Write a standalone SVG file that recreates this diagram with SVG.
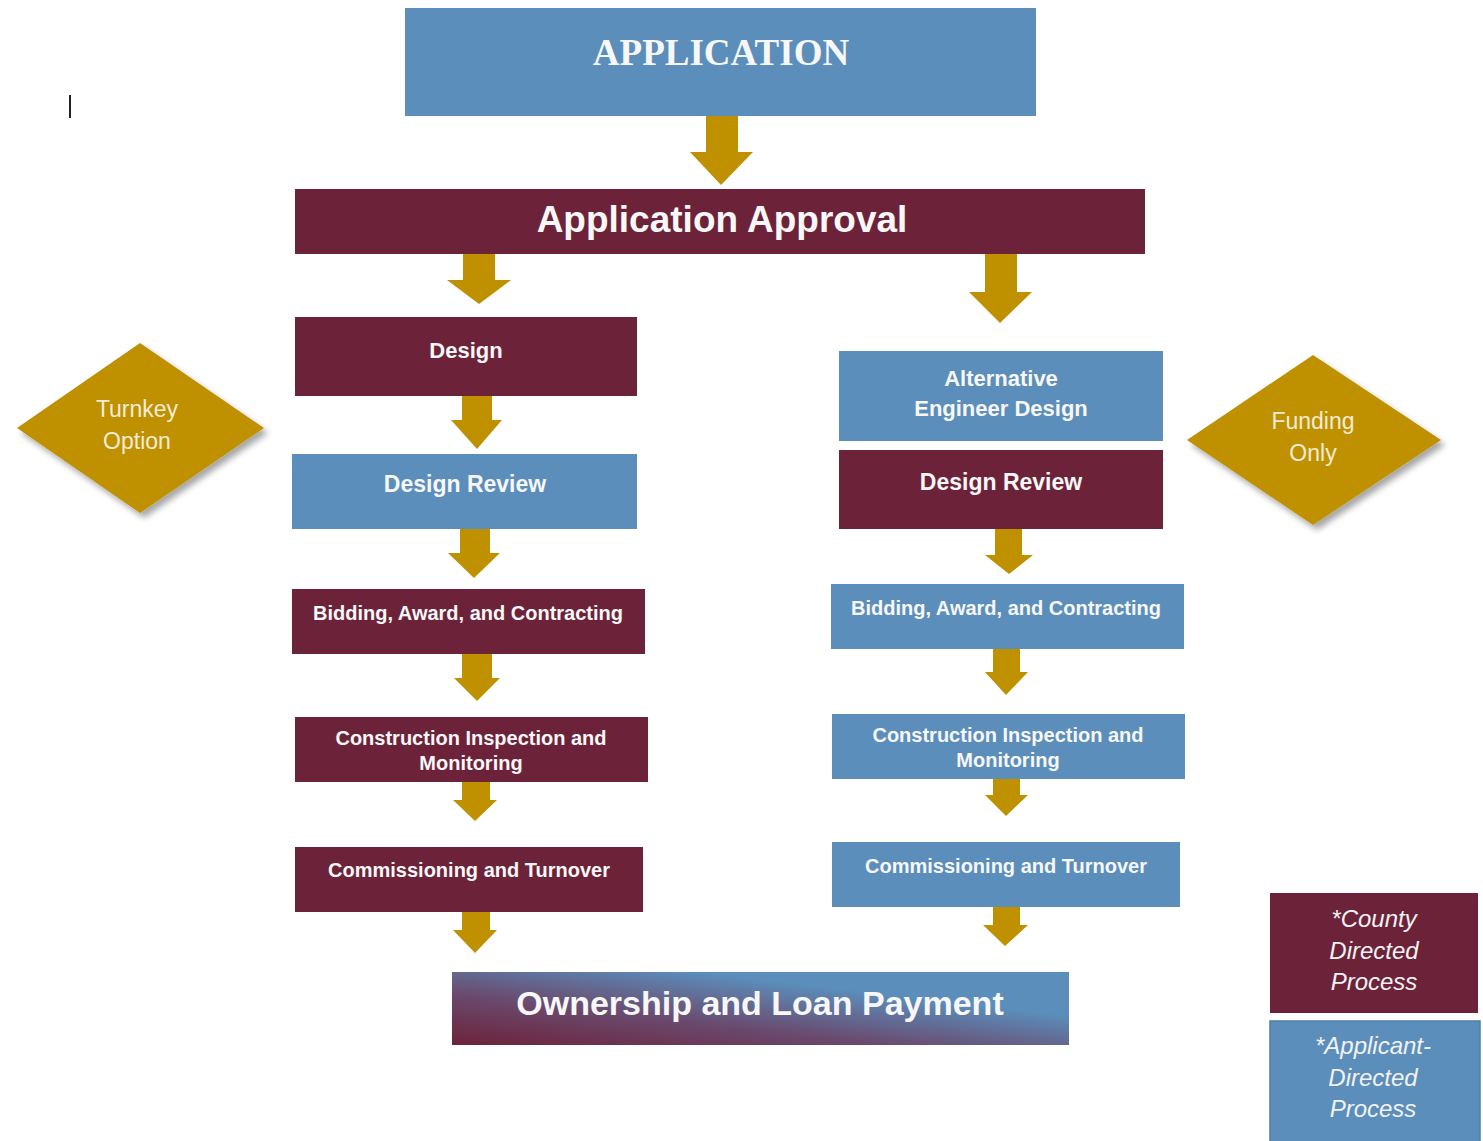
<svg xmlns="http://www.w3.org/2000/svg" width="1483" height="1141" viewBox="0 0 1483 1141">
<style>
.blue{fill:#5b8ebb}
.maroon{fill:#6c2339}
.arr{fill:#bf9000}
.dia{fill:#bf9000}
.t{font-family:"Liberation Sans",Arial,sans-serif;font-weight:bold;fill:#f7f7f7;text-anchor:middle}
.dt{font-family:"Liberation Sans",Arial,sans-serif;fill:#f3ecd6;text-anchor:middle;font-size:23px}
.lt{font-family:"Liberation Sans",Arial,sans-serif;font-style:italic;fill:#f2f2f2;text-anchor:middle;font-size:24px}
</style>
<defs>
<linearGradient id="own" x1="0" y1="1" x2="1" y2="0">
<stop offset="0" stop-color="#6c2339"/>
<stop offset="0.35" stop-color="#6a4a6e"/>
<stop offset="0.7" stop-color="#5b8ebb"/>
<stop offset="1" stop-color="#5b8ebb"/>
</linearGradient>
<filter id="sh" x="-20%" y="-20%" width="150%" height="150%">
<feDropShadow dx="4" dy="5" stdDeviation="3" flood-color="#000" flood-opacity="0.35"/>
</filter>
</defs>
<rect width="1483" height="1141" fill="#ffffff"/>
<rect x="69" y="95" width="2" height="23" fill="#222"/>

<g id="connectors">
<polygon class="arr" points="706,116 738,116 738,152 753,152 721,185 690,152 706,152"/>
<polygon class="arr" points="463,254 495,254 495,280 511,280 479,304 447,280 463,280"/>
<polygon class="arr" points="985,254 1017,254 1017,292 1032,292 1000,323 969,292 985,292"/>
<polygon class="arr" points="462,396 492,396 492,420 502,420 477,449 451,420 462,420"/>
<polygon class="arr" points="460,529 490,529 490,553 500,553 474,578 448,553 460,553"/>
<polygon class="arr" points="462,654 492,654 492,678 500,678 477,701 454,678 462,678"/>
<polygon class="arr" points="462,782 490,782 490,800 497,800 475,821 453,800 462,800"/>
<polygon class="arr" points="462,912 490,912 490,930 497,930 475,953 453,930 462,930"/>
<polygon class="arr" points="995,529 1022,529 1022,555 1033,555 1009,574 985,555 995,555"/>
<polygon class="arr" points="993,649 1020,649 1020,672 1028,672 1006,695 985,672 993,672"/>
<polygon class="arr" points="993,779 1020,779 1020,795 1028,795 1006,816 985,795 993,795"/>
<polygon class="arr" points="993,907 1020,907 1020,925 1028,925 1005,946 983,925 993,925"/>
</g>

<g id="application">
<rect class="blue" x="405" y="8" width="631" height="108"/>
<text x="721" y="65" font-family="Liberation Serif,'Times New Roman',serif" font-weight="bold" font-size="37" fill="#f7f7f7" text-anchor="middle">APPLICATION</text>
</g>
<g id="approval">
<rect class="maroon" x="295" y="189" width="850" height="65"/>
<text class="t" x="722" y="232" font-size="37">Application Approval</text>
</g>

<g id="design">
<rect class="maroon" x="295" y="317" width="342" height="79"/>
<text class="t" x="466" y="358" font-size="22">Design</text>
</g>
<g id="design-review-l">
<rect class="blue" x="292" y="454" width="345" height="75"/>
<text class="t" x="465" y="492" font-size="23">Design Review</text>
</g>
<g id="bidding-l">
<rect class="maroon" x="292" y="589" width="353" height="65"/>
<text class="t" x="468" y="620" font-size="20">Bidding, Award, and Contracting</text>
</g>
<g id="construction-l">
<rect class="maroon" x="295" y="717" width="353" height="65"/>
<text class="t" x="471" y="745" font-size="20">Construction Inspection and</text>
<text class="t" x="471" y="770" font-size="20">Monitoring</text>
</g>
<g id="commissioning-l">
<rect class="maroon" x="295" y="847" width="348" height="65"/>
<text class="t" x="469" y="877" font-size="20">Commissioning and Turnover</text>
</g>

<g id="alt-design">
<rect class="blue" x="839" y="351" width="324" height="90"/>
<text class="t" x="1001" y="386" font-size="22">Alternative</text>
<text class="t" x="1001" y="416" font-size="22">Engineer Design</text>
</g>
<g id="design-review-r">
<rect class="maroon" x="839" y="450" width="324" height="79"/>
<text class="t" x="1001" y="490" font-size="23">Design Review</text>
</g>
<g id="bidding-r">
<rect class="blue" x="831" y="584" width="353" height="65"/>
<text class="t" x="1006" y="615" font-size="20">Bidding, Award, and Contracting</text>
</g>
<g id="construction-r">
<rect class="blue" x="832" y="714" width="353" height="65"/>
<text class="t" x="1008" y="742" font-size="20">Construction Inspection and</text>
<text class="t" x="1008" y="767" font-size="20">Monitoring</text>
</g>
<g id="commissioning-r">
<rect class="blue" x="832" y="842" width="348" height="65"/>
<text class="t" x="1006" y="873" font-size="20">Commissioning and Turnover</text>
</g>

<g id="ownership">
<rect x="452" y="972" width="617" height="73" fill="url(#own)"/>
<text class="t" x="760" y="1015" font-size="34">Ownership and Loan Payment</text>
</g>

<g id="turnkey">
<polygon class="dia" filter="url(#sh)" points="17,428 140,343 264,428 140,513"/>
<text class="dt" x="137" y="417">Turnkey</text>
<text class="dt" x="137" y="449">Option</text>
</g>
<g id="funding">
<polygon class="dia" filter="url(#sh)" points="1187,440 1313,355 1441,440 1313,525"/>
<text class="dt" x="1313" y="429">Funding</text>
<text class="dt" x="1313" y="461">Only</text>
</g>

<g id="legend-county">
<rect class="maroon" x="1270" y="893" width="208" height="120"/>
<text class="lt" x="1374" y="927">*County</text>
<text class="lt" x="1374" y="959">Directed</text>
<text class="lt" x="1374" y="990">Process</text>
</g>
<g id="legend-applicant">
<rect class="blue" x="1270" y="1021" width="210" height="125" stroke="#4f7fa8" stroke-width="1.5"/>
<text class="lt" x="1373" y="1054">*Applicant-</text>
<text class="lt" x="1373" y="1086">Directed</text>
<text class="lt" x="1373" y="1117">Process</text>
</g>
</svg>
